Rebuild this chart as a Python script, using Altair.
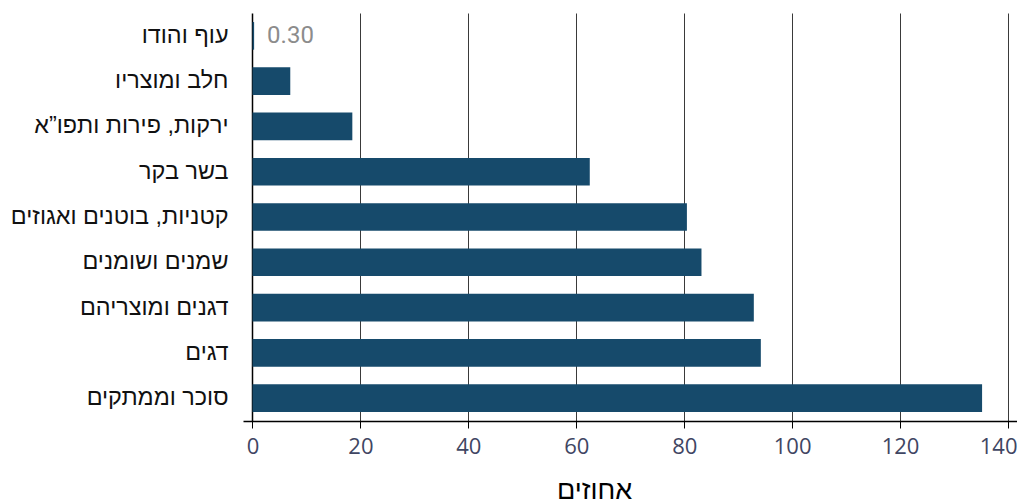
import altair as alt
import pandas as pd

categories = [
    "עוף והודו",
    "חלב ומוצריו",
    "ירקות, פירות ותפו\u201dא",
    "בשר בקר",
    "קטניות, בוטנים ואגוזים",
    "שמנים ושומנים",
    "דגנים ומוצריהם",
    "דגים",
    "סוכר וממתקים",
]
values = [0.30, 7.0, 18.5, 62.5, 80.5, 83.2, 92.9, 94.2, 135.2]
label_texts = ["0.30", "", "", "", "", "", "", "", ""]
x_ticks = [0, 20, 40, 60, 80, 100, 120, 140]

df = pd.DataFrame({"cat": categories, "val": values, "lbl": label_texts})

x_scale = alt.Scale(domain=[-1.76, 141.67], nice=False, zero=False)
y_scale = alt.Scale(domain=categories, paddingInner=0.39, paddingOuter=0.2)

base = alt.Chart(df)

bars = base.mark_bar(color="#164a6b").encode(
    x=alt.X(
        "val:Q",
        scale=x_scale,
        axis=alt.Axis(
            values=x_ticks,
            title="אחוזים",
            titleFont="Liberation Sans",
            titleFontSize=27,
            titleFontWeight="normal",
            titleColor="#000000",
            titlePadding=20,
            titleX=351,
            labelFont="Open Sans",
            labelFontSize=22,
            labelColor="#3f4663",
            labelPadding=8,
            labelAlign=alt.condition("datum.value == 140", alt.value("right"), alt.value("center")),
            labelOffset=alt.condition("datum.value == 140", alt.value(9), alt.value(0)),
            tickColor="#000000",
            tickSize=7,
            tickWidth=1,
            domainColor="#000000",
            domainWidth=1.5,
            grid=True,
            gridColor=alt.condition("datum.value == 0", alt.value("#000000"), alt.value("#3a3a3a")),
            gridWidth=alt.condition("datum.value == 0", alt.value(1.5), alt.value(1)),
        ),
    ),
    x2=alt.datum(0),
    y=alt.Y(
        "cat:N",
        scale=y_scale,
        sort=None,
        axis=alt.Axis(
            title=None,
            labelFont="Liberation Sans",
            labelFontSize=23.4,
            labelColor="#111111",
            labelPadding=15,
            ticks=False,
            domain=False,
            grid=False,
            labelLimit=400,
        ),
    ),
)

labels = base.mark_text(
    align="left", baseline="middle", dx=13, font="Roboto", fontSize=24, color="#8c8c8c"
).encode(
    x=alt.X("val:Q", scale=x_scale),
    y=alt.Y("cat:N", scale=y_scale, sort=None),
    text="lbl:N",
)

chart = (
    alt.layer(bars, labels)
    .properties(
        width=774,
        height=408,
        background="#ffffff",
        autosize=alt.AutoSizeParams(type="none"),
        padding={"left": 235, "top": 5, "right": 0, "bottom": 90},
    )
    .configure_view(strokeWidth=0, stroke=None)
)

chart.save("out.html", embed_options={"renderer": "svg", "actions": False})
